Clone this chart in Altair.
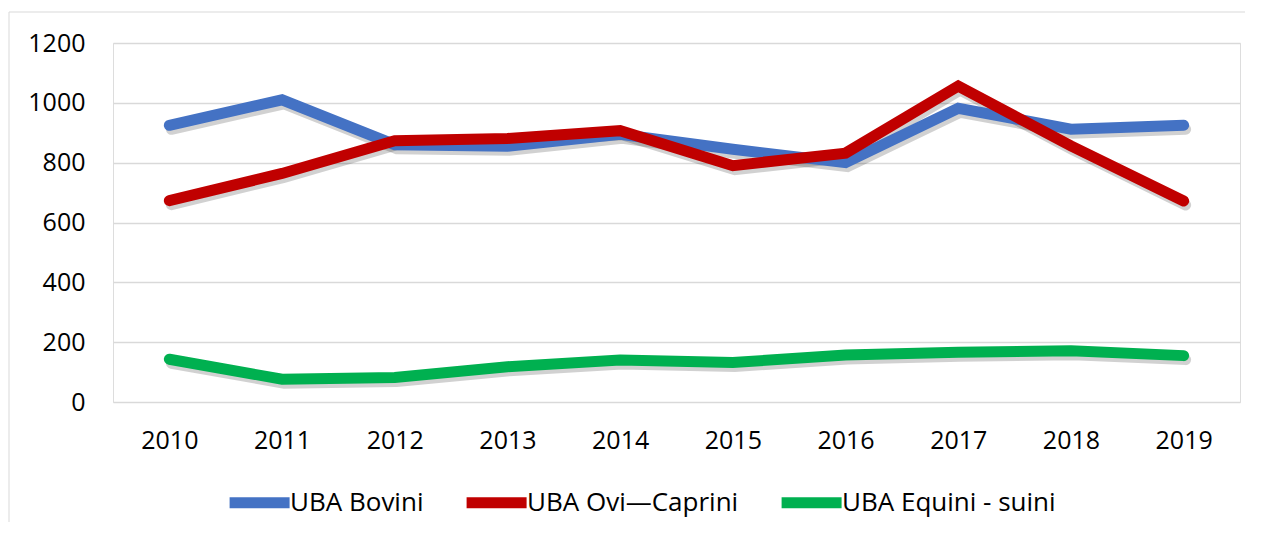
import altair as alt
import pandas as pd

years = ["2010", "2011", "2012", "2013", "2014", "2015", "2016", "2017", "2018", "2019"]
bovini = [925, 1010, 860, 855, 895, 845, 800, 982, 912, 925]
ovi_caprini = [673, 764, 873, 881, 907, 790, 832, 1056, 856, 672]
equini_suini = [143, 76, 82, 118, 140, 132, 157, 166, 171, 155]
series_names = ["UBA Bovini", "UBA Ovi\u2014Caprini", "UBA Equini - suini"]
series_colors = ["#4472C4", "#C00000", "#00B050"]
y_ticks = [0, 200, 400, 600, 800, 1000, 1200]

rows = []
for name, vals in zip(series_names, [bovini, ovi_caprini, equini_suini]):
    for yr, v in zip(years, vals):
        rows.append({"Anno": yr, "Valore": v, "Serie": name})
df = pd.DataFrame(rows)

FONT = "Open Sans"

x_enc = alt.X(
    "Anno:N", sort=years,
    scale=alt.Scale(type="point", padding=0.5),
    axis=alt.Axis(title=None, labelAngle=0, domain=False, ticks=False, grid=False,
                  labelPadding=26, labelFontSize=25, labelFont=FONT, labelColor="#000000"),
)
y_enc = alt.Y(
    "Valore:Q",
    scale=alt.Scale(domain=[0, 1200], nice=False),
    axis=alt.Axis(title=None, values=y_ticks, format="d", domain=False, ticks=False, labelPadding=28,
                  labelFontSize=25, labelFont=FONT, labelColor="#000000",
                  gridColor="#d9d9d9", gridWidth=1.5),
)

shadow = alt.Chart(df).mark_line(
    strokeWidth=11, strokeCap="round", color="#000000", opacity=0.18, xOffset=2, yOffset=4
).encode(x=x_enc, y=y_enc, detail="Serie:N")

lines = alt.Chart(df).mark_line(strokeWidth=11, strokeCap="round").encode(
    x=x_enc,
    y=y_enc,
    color=alt.Color(
        "Serie:N", sort=series_names,
        scale=alt.Scale(domain=series_names, range=series_colors),
        legend=alt.Legend(
            title=None, orient="none", direction="horizontal", legendX=106, legendY=424,
            symbolType="M-0.83,0L1.17,0", symbolSize=3600, symbolStrokeWidth=11,
            labelFontSize=26, labelFont=FONT, labelColor="#000000", labelOffset=0,
            columnPadding=20, labelLimit=400,
        ),
    ),
)

frame_data = alt.Data(values=[{"k": 1}])
border_top = alt.Chart(frame_data).mark_rule(color="#d9d9d9", strokeWidth=1).encode(
    x=alt.value(-104), x2=alt.value(1132), y=alt.value(-31)
)
border_left = alt.Chart(frame_data).mark_rule(color="#d9d9d9", strokeWidth=1).encode(
    x=alt.value(-104), y=alt.value(-31), y2=alt.value(479)
)

chart = alt.layer(border_top, border_left, shadow, lines).properties(
    width=1127, height=359,
    autosize=alt.AutoSizeParams(type="none"),
    padding={"left": 105, "top": 35, "right": 13, "bottom": 120},
).configure_view(stroke="transparent", strokeWidth=0).configure(font=FONT)

chart.save("out.html", embed_options={"renderer": "svg", "actions": False})
